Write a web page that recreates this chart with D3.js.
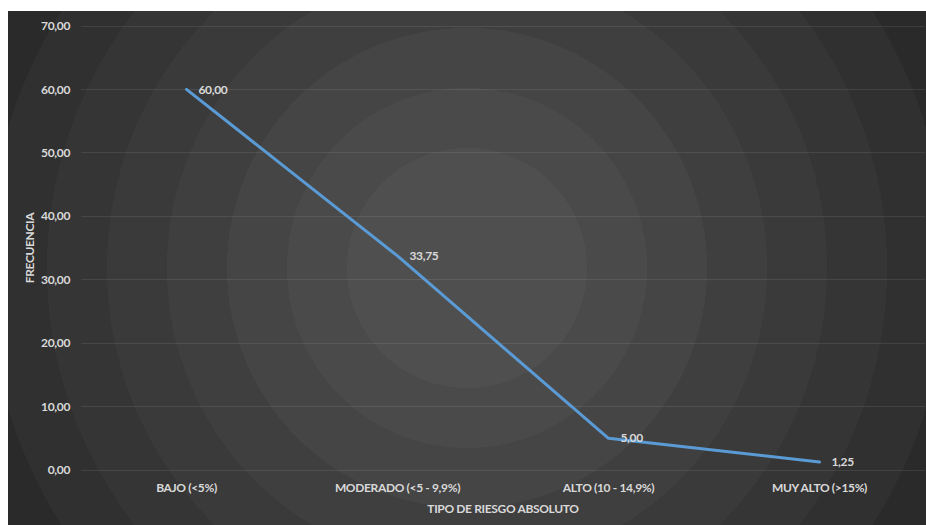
<!DOCTYPE html>
<html><head><meta charset="utf-8">
<script src="https://cdn.jsdelivr.net/npm/d3@7"></script>
<style>html,body{margin:0;padding:0;background:#fff;}svg{display:block;}</style>
</head><body>
<script>
const categories = ["BAJO (<5%)", "MODERADO (<5 - 9,9%)", "ALTO (10 - 14,9%)", "MUY ALTO (>15%)"];
const values = [60.00, 33.75, 5.00, 1.25];
const yTicks = [0, 10, 20, 30, 40, 50, 60, 70];
const xTitle = "TIPO DE RIESGO ABSOLUTO";
const yTitle = "FRECUENCIA";

const W = 926, H = 525;
const bg = {x: 8, y: 11, w: 918, h: 514};
const m = {left: 81, right: 925, top: 26, bottom: 470};
const fmt = v => d3.format(".2f")(v).replace(".", ",");
const font = "Lato, 'Open Sans', sans-serif";

const svg = d3.select("body").append("svg").attr("width", W).attr("height", H);
const defs = svg.append("defs");
const grad = defs.append("radialGradient").attr("id", "bgGrad")
  .attr("gradientUnits", "userSpaceOnUse")
  .attr("cx", bg.x + bg.w / 2).attr("cy", bg.y + bg.h / 2).attr("r", 600);
const c0 = d3.rgb(79, 79, 79), c1 = d3.rgb(37, 37, 37);
const edges = [0, 2, 3, 4, 5, 6, 7, 8, 9, 10];
for (let i = 0; i < edges.length - 1; i++) {
  const col = d3.interpolateRgb(c0, c1)(i / (edges.length - 2));
  grad.append("stop").attr("offset", edges[i] / 10).attr("stop-color", col);
  grad.append("stop").attr("offset", edges[i + 1] / 10).attr("stop-color", col);
}
svg.append("rect").attr("x", bg.x).attr("y", bg.y).attr("width", bg.w).attr("height", bg.h)
  .attr("fill", "url(#bgGrad)");

const x = d3.scaleBand().domain(categories).range([m.left, m.right]);
const y = d3.scaleLinear().domain([0, 70]).range([m.bottom, m.top]);
const cx = d => x(d) + x.bandwidth() / 2;

// gridlines
svg.append("g").selectAll("line").data(yTicks).join("line")
  .attr("x1", m.left).attr("x2", m.right)
  .attr("y1", d => y(d)).attr("y2", d => y(d))
  .attr("stroke", "rgba(255,255,255,0.09)").attr("stroke-width", 1).attr("shape-rendering", "crispEdges");

const txt = sel => sel.attr("fill", "#d9d9d9").attr("font-family", font)
  .attr("font-size", 12).attr("font-weight", 700).attr("letter-spacing", "-0.35px");

// y tick labels
svg.append("g").selectAll("text").data(yTicks).join("text")
  .attr("x", 70).attr("y", d => y(d)).attr("dy", "0.35em")
  .attr("text-anchor", "end").call(txt)
  .text(d => fmt(d));

// x category labels
svg.append("g").selectAll("text").data(categories).join("text")
  .attr("x", d => cx(d)).attr("y", 492)
  .attr("text-anchor", "middle").call(txt)
  .text(d => d);

// axis titles
svg.append("text").attr("x", (m.left + m.right) / 2).attr("y", 513)
  .attr("text-anchor", "middle").call(txt)
  .text(xTitle);
svg.append("text")
  .attr("transform", `translate(34,${(m.top + m.bottom) / 2}) rotate(-90)`)
  .attr("text-anchor", "middle").call(txt)
  .text(yTitle);

// line
const pts = categories.map((c, i) => ({c, v: values[i]}));
svg.append("path").datum(pts)
  .attr("d", d3.line().x(d => cx(d.c)).y(d => y(d.v)))
  .attr("fill", "none").attr("stroke", "#5b9bd5").attr("stroke-width", 3)
  .attr("stroke-linejoin", "round").attr("stroke-linecap", "round");

// data labels
svg.append("g").selectAll("text").data(pts).join("text")
  .attr("x", d => cx(d.c) + 12).attr("y", d => y(d.v)).attr("dy", "0.35em")
  .call(txt)
  .text(d => fmt(d.v));
</script>
</body></html>
